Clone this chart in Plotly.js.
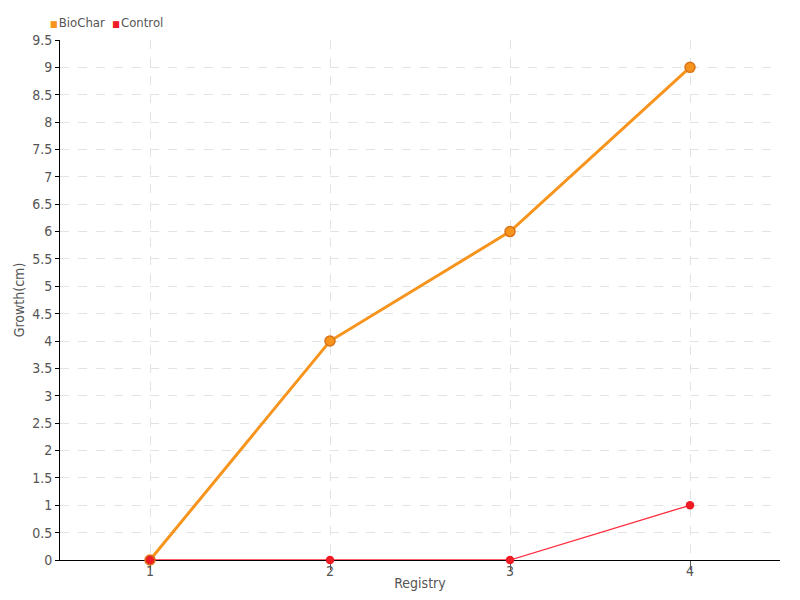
<!DOCTYPE html>
<html>
<head>
<meta charset="utf-8">
<script src="https://cdn.plot.ly/plotly-3.0.1.min.js"></script>
<style>html,body{margin:0;padding:0;background:#fff;}#chart{width:800px;height:600px;}</style>
</head>
<body>
<div id="chart"></div>
<script>
var registry = [1, 2, 3, 4];
var biochar = [0, 4, 6, 9];
var control = [0, 0, 0, 1];
var seriesNames = ["BioChar", "Control"];
var seriesColors = ["#f7941d", "#ee1c25"];

var FONT = "'DejaVu Sans Condensed', 'DejaVu Sans', sans-serif";

var traces = [
  {
    x: registry, y: biochar, name: seriesNames[0], mode: "lines+markers",
    line: {color: seriesColors[0], width: 3},
    marker: {color: seriesColors[0], size: 10, line: {color: "#d9731a", width: 1.5}},
    showlegend: false, cliponaxis: false
  },
  {
    x: registry, y: control, name: seriesNames[1], mode: "lines+markers",
    line: {color: "#ff2a3a", width: 1.3},
    marker: {color: seriesColors[1], size: 8.5},
    showlegend: false, cliponaxis: false
  }
];

var layout = {
  width: 800, height: 600,
  margin: {l: 60, r: 20, t: 40, b: 40},
  paper_bgcolor: "#fff", plot_bgcolor: "#fff",
  font: {family: FONT, size: 13, color: "#555"},
  xaxis: {
    range: [0.5, 4.5], tickvals: registry, ticktext: registry.map(String),
    showgrid: true, gridcolor: "#e3e3e3", griddash: "dash", gridwidth: 1,
    zeroline: false, showline: true, linecolor: "#000", linewidth: 1, layer: "below traces",
    ticks: "outside", ticklen: 9, tickcolor: "#555", ticklabelstandoff: -11,
    tickfont: {size: 14, color: "#555"},
    title: {text: "Registry", font: {size: 14, color: "#555"}, standoff: 0}
  },
  yaxis: {
    range: [0, 9.5], dtick: 0.5, tick0: 0,
    showgrid: true, gridcolor: "#e3e3e3", griddash: "dash", gridwidth: 1,
    zeroline: false, showline: true, linecolor: "#000", linewidth: 1, layer: "below traces",
    ticks: "outside", ticklen: 4, tickcolor: "#000", tickfont: {size: 14, color: "#555"},
    title: {text: "Growth(cm)", font: {size: 14, color: "#555"}, standoff: 4}
  },
  showlegend: false,
  annotations: [
    {xref: "paper", yref: "paper", x: -0.017, y: 1.0, yshift: 18, xanchor: "left", yanchor: "middle", showarrow: false,
     text: '<span style="color:' + seriesColors[0] + ';font-size:9px">■</span><span style="font-size:4px"> </span>' + seriesNames[0] +
           '  <span style="color:' + seriesColors[1] + ';font-size:9px">■</span><span style="font-size:4px"> </span>' + seriesNames[1],
     font: {size: 13, color: "#555"}}
  ]
};

Plotly.newPlot("chart", traces, layout, {displayModeBar: false, staticPlot: true});
</script>
</body>
</html>
